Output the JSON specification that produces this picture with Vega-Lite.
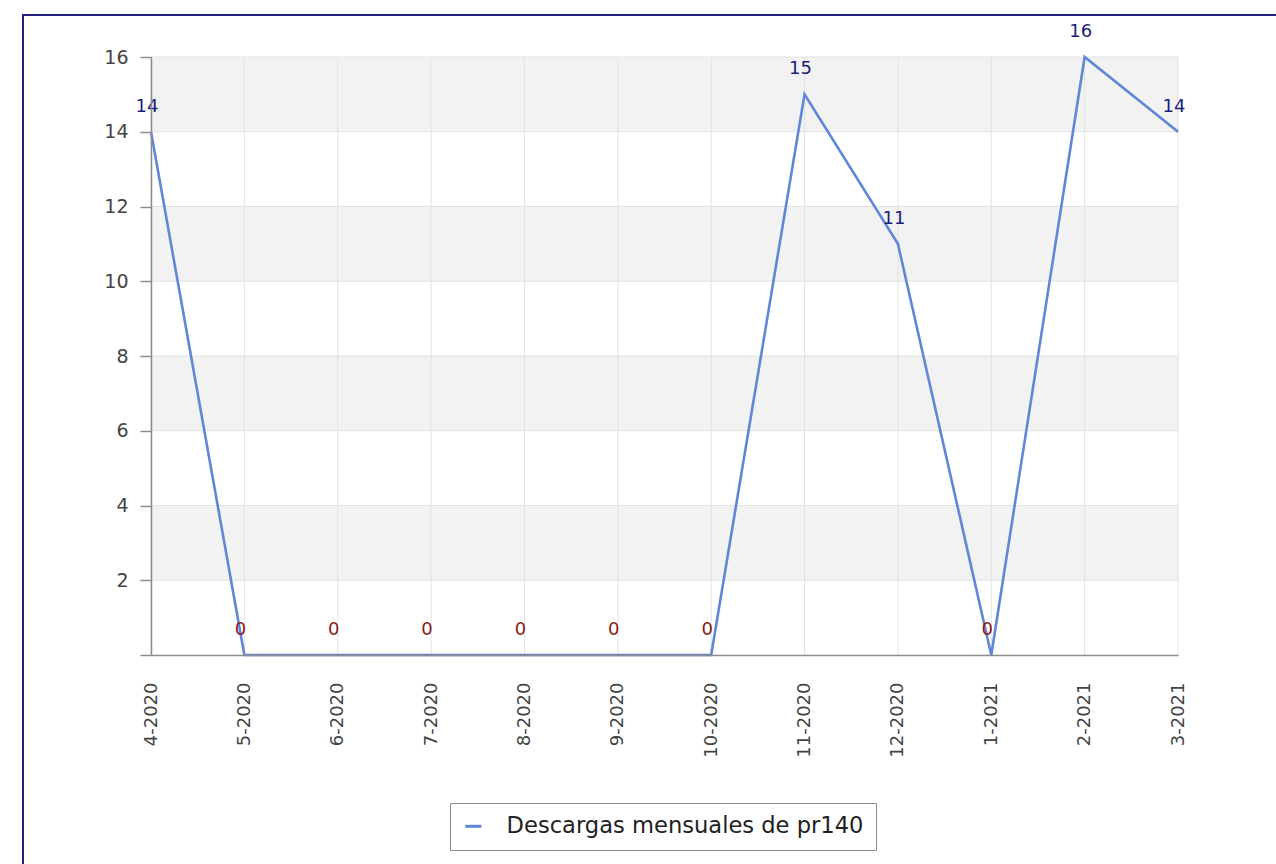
{
  "$schema": "https://vega.github.io/schema/vega-lite/v6.json",
  "width": 1270,
  "height": 860,
  "padding": {"left": 23, "top": 15, "right": 0, "bottom": 0},
  "autosize": {"type": "none"},
  "background": "white",
  "config": {
    "view": {"stroke": "#23237c", "strokeWidth": 2},
    "font": "DejaVu Sans"
  },
  "datasets": {
    "monthly": [
      {"mes": "4-2020", "descargas": 14, "serie": "Descargas mensuales de pr140"},
      {"mes": "5-2020", "descargas": 0, "serie": "Descargas mensuales de pr140"},
      {"mes": "6-2020", "descargas": 0, "serie": "Descargas mensuales de pr140"},
      {"mes": "7-2020", "descargas": 0, "serie": "Descargas mensuales de pr140"},
      {"mes": "8-2020", "descargas": 0, "serie": "Descargas mensuales de pr140"},
      {"mes": "9-2020", "descargas": 0, "serie": "Descargas mensuales de pr140"},
      {"mes": "10-2020", "descargas": 0, "serie": "Descargas mensuales de pr140"},
      {"mes": "11-2020", "descargas": 15, "serie": "Descargas mensuales de pr140"},
      {"mes": "12-2020", "descargas": 11, "serie": "Descargas mensuales de pr140"},
      {"mes": "1-2021", "descargas": 0, "serie": "Descargas mensuales de pr140"},
      {"mes": "2-2021", "descargas": 16, "serie": "Descargas mensuales de pr140"},
      {"mes": "3-2021", "descargas": 14, "serie": "Descargas mensuales de pr140"}
    ],
    "bands": [
      {"lo": 2, "hi": 4},
      {"lo": 6, "hi": 8},
      {"lo": 10, "hi": 12},
      {"lo": 14, "hi": 16}
    ],
    "hgrid": [
      {"v": 2}, {"v": 4}, {"v": 6}, {"v": 8}, {"v": 10}, {"v": 12}, {"v": 14}, {"v": 16}
    ]
  },
  "layer": [
    {
      "data": {"name": "bands"},
      "mark": {"type": "rect", "color": "#f2f2f2"},
      "encoding": {
        "x": {"datum": "4-2020", "type": "ordinal", "title": null},
        "x2": {"datum": "3-2021"},
        "y": {"field": "lo", "type": "quantitative", "title": null},
        "y2": {"field": "hi"}
      }
    },
    {
      "data": {"name": "hgrid"},
      "mark": {"type": "rule", "color": "#e2e2e2", "strokeWidth": 1},
      "encoding": {
        "x": {"datum": "4-2020", "type": "ordinal", "title": null},
        "x2": {"datum": "3-2021"},
        "y": {"field": "v", "type": "quantitative", "title": null}
      }
    },
    {
      "data": {"name": "monthly"},
      "mark": {"type": "rule", "color": "#e2e2e2", "strokeWidth": 1},
      "encoding": {
        "x": {"field": "mes", "type": "ordinal", "title": null},
        "y": {"datum": 0, "type": "quantitative", "title": null},
        "y2": {"datum": 16}
      }
    },
    {
      "data": {"name": "monthly"},
      "mark": {"type": "line", "strokeWidth": 2.6},
      "encoding": {
        "x": {
          "field": "mes",
          "type": "ordinal",
          "title": null,
          "sort": null,
          "scale": {
            "type": "point",
            "domain": ["4-2020", "5-2020", "6-2020", "7-2020", "8-2020", "9-2020", "10-2020", "11-2020", "12-2020", "1-2021", "2-2021", "3-2021"],
            "range": [128, 1155],
            "padding": 0
          },
          "axis": {
            "orient": "bottom",
            "offset": -220,
            "ticks": false,
            "grid": false,
            "labelAngle": -90,
            "labelAlign": "right",
            "labelBaseline": "middle",
            "labelPadding": 27,
            "labelFontSize": 18,
            "labelColor": "#444444",
            "domainColor": "#8c8c8c",
            "domainWidth": 1.5,
            "zindex": 1
          }
        },
        "y": {
          "field": "descargas",
          "type": "quantitative",
          "title": null,
          "scale": {"domain": [0, 16], "range": [640, 42], "nice": false, "zero": true},
          "axis": {
            "orient": "left",
            "offset": -128,
            "values": [0, 2, 4, 6, 8, 10, 12, 14, 16],
            "labelExpr": "datum.value === 0 ? '' : datum.label",
            "grid": false,
            "tickSize": 11,
            "tickColor": "#8c8c8c",
            "tickWidth": 1.5,
            "domainColor": "#8c8c8c",
            "domainWidth": 1.5,
            "labelPadding": 12,
            "labelFontSize": 19,
            "labelColor": "#444444",
            "zindex": 1
          }
        },
        "color": {
          "field": "serie",
          "type": "nominal",
          "scale": {"range": ["#5f86d8"]},
          "legend": {
            "title": null,
            "orient": "none",
            "legendX": 427,
            "legendY": 788,
            "direction": "horizontal",
            "symbolType": "stroke",
            "symbolStrokeWidth": 3,
            "symbolSize": 260,
            "labelFontSize": 22.6,
            "labelLimit": 1000,
            "labelColor": "#222222",
            "labelOffset": 22,
            "padding": 12,
            "strokeColor": "#8c8c8c",
            "fillColor": "white"
          }
        }
      }
    },
    {
      "data": {"name": "monthly"},
      "mark": {"type": "text", "fontSize": 18, "baseline": "middle", "align": "center", "dy": -25, "dx": -4},
      "encoding": {
        "x": {"field": "mes", "type": "ordinal", "title": null},
        "y": {"field": "descargas", "type": "quantitative", "title": null},
        "text": {"field": "descargas", "type": "quantitative"},
        "color": {
          "condition": {"test": "datum.descargas === 0", "value": "#8b1a1a"},
          "value": "#1c1c7c"
        }
      }
    }
  ]
}
